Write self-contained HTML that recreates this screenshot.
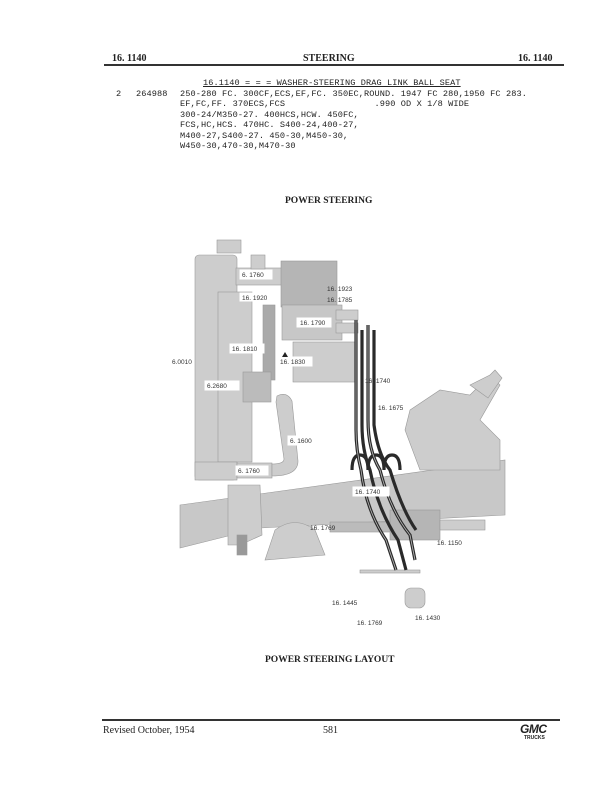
<!DOCTYPE html>
<html><head><meta charset="utf-8"><style>
body{margin:0;background:#fff;}
.pg{position:relative;width:612px;height:792px;overflow:hidden;font-family:"Liberation Serif",serif;color:#222;}
.t{position:absolute;white-space:nowrap;}
.m{font-family:"Liberation Mono",monospace;font-size:8.6px;letter-spacing:0.1px;line-height:10.4px;}
</style></head><body><div class="pg">
<div class="t" style="left:112px;top:53px;font-size:10px;font-weight:bold;">16. 1140</div>
<div class="t" style="left:303px;top:53px;font-size:10px;font-weight:bold;">STEERING</div>
<div class="t" style="left:518px;top:53px;font-size:10px;font-weight:bold;">16. 1140</div>
<div style="position:absolute;left:104px;top:64px;width:460px;height:1.5px;background:#333"></div>
<div class="t m" style="left:203px;top:78px;text-decoration:underline;">16.1140 = = = WASHER-STEERING DRAG LINK BALL SEAT</div>
<div class="t m" style="left:116px;top:89px;">2</div>
<div class="t m" style="left:136px;top:89px;">264988</div>
<div class="t m" style="left:180px;top:89px;">250-280 FC. 300CF,ECS,EF,FC. 350EC,ROUND. 1947 FC 280,1950 FC 283.<br>EF,FC,FF. 370ECS,FCS&nbsp;&nbsp;&nbsp;&nbsp;&nbsp;&nbsp;&nbsp;&nbsp;&nbsp;&nbsp;&nbsp;&nbsp;&nbsp;&nbsp;&nbsp;&nbsp;&nbsp;.990 OD X 1/8 WIDE<br>300-24/M350-27. 400HCS,HCW. 450FC,<br>FCS,HC,HCS. 470HC. S400-24,400-27,<br>M400-27,S400-27. 450-30,M450-30,<br>W450-30,470-30,M470-30</div>
<div class="t" style="left:285px;top:196px;font-size:9.5px;font-weight:bold;">POWER STEERING</div>

<svg style="position:absolute;left:0;top:0" width="612" height="792" font-family="Liberation Sans,sans-serif" font-size="6.5">
<g fill="#cdcdcd" stroke="#999" stroke-width="0.6">
<rect x="217" y="240" width="24" height="13"/>
<rect x="195" y="255" width="42" height="225" rx="4"/>
<rect x="218" y="292" width="34" height="170"/>
<rect x="195" y="462" width="42" height="18"/>
<polygon points="180,505 505,460 505,515 260,528 180,548" fill="#c8c8c8"/>
<polygon points="228,485 260,485 262,535 240,545 228,545"/>
<polygon points="410,410 440,390 470,395 490,375 500,385 480,420 500,440 500,470 420,470 405,430"/>
<polygon points="470,385 490,375 495,370 502,378 488,398"/>
<rect x="237" y="463" width="35" height="15"/>
<path d="M277,396 q10,-5 15,5 l6,60 q0,15 -26,15 l0,-12 q12,0 12,-5 l-8,-57z"/>
<rect x="293" y="342" width="62" height="40"/>
<rect x="236" y="268" width="56" height="17"/>
<rect x="251" y="255" width="14" height="14"/>
<rect x="281" y="261" width="56" height="46" fill="#b5b5b5"/>
<rect x="282" y="305" width="60" height="35" fill="#c7c7c7"/>
<rect x="263" y="305" width="12" height="75" fill="#aaa"/>
<rect x="243" y="372" width="28" height="30" fill="#bbb"/>
<rect x="336" y="310" width="22" height="10"/>
<rect x="336" y="323" width="22" height="10"/>
<rect x="330" y="522" width="100" height="10" fill="#bbb"/>
<rect x="390" y="510" width="50" height="30" fill="#b5b5b5"/>
<rect x="440" y="520" width="45" height="10"/>
<rect x="405" y="588" width="20" height="20" rx="6"/>
<rect x="360" y="570" width="60" height="3"/>
<path d="M275,530 q20,-15 40,0 l10,25 l-60,5z"/>
<rect x="237" y="535" width="10" height="20" fill="#999"/>
</g>
<g fill="none" stroke="#2a2a2a" stroke-width="3.2">
<path d="M356,320 L356,430 q0,20 5,40 q5,40 25,70 l10,30"/>
<path d="M362,330 L362,425 q0,25 8,45 q8,40 28,70 l8,30"/>
<path d="M368,325 L368,420 q0,30 12,50 q10,40 30,65 l5,25"/>
<path d="M374,330 L374,425 q4,30 16,45 q12,40 26,60"/>
<path d="M352,470 q0,-15 8,-15 q8,0 8,15 M368,470 q0,-15 8,-15 q8,0 8,15 M384,470 q0,-15 8,-15 q8,0 8,15"/>
</g>
<g fill="none" stroke="#bbb" stroke-width="0.8">
<path d="M356,320 L356,430 q0,20 5,40 q5,40 25,70 l10,30"/>
<path d="M368,325 L368,420 q0,30 12,50 q10,40 30,65 l5,25"/>
</g>
<g fill="#fff" stroke="#fff">
<rect x="240" y="270" width="32" height="9"/><rect x="240" y="293" width="34" height="8"/>
<rect x="297" y="318" width="34" height="9"/><rect x="230" y="344" width="34" height="9"/>
<rect x="278" y="357" width="34" height="9"/><rect x="205" y="381" width="34" height="9"/>
<rect x="288" y="436" width="30" height="9"/><rect x="236" y="466" width="32" height="9"/>
<rect x="353" y="487" width="36" height="9"/>
</g>
<g fill="#333">
<text x="242" y="277">6. 1760</text><text x="242" y="300">16. 1920</text>
<text x="327" y="291">16. 1923</text><text x="327" y="302">16. 1785</text>
<text x="300" y="325">16. 1790</text><text x="232" y="351">16. 1810</text>
<text x="280" y="364">16. 1830</text><text x="172" y="364">6.0010</text>
<text x="207" y="388">6.2680</text><text x="365" y="383">16. 1740</text>
<text x="378" y="410">16. 1675</text><text x="290" y="443">6. 1600</text>
<text x="238" y="473">6. 1760</text><text x="355" y="494">16. 1740</text>
<text x="310" y="530">16. 1769</text><text x="437" y="545">16. 1150</text>
<text x="332" y="605">16. 1445</text><text x="357" y="625">16. 1769</text>
<text x="415" y="620">16. 1430</text>
</g>
<path d="M285,352 l-3,5 h6z" fill="#222"/>
</svg>

<div class="t" style="left:265px;top:655px;font-size:9.5px;font-weight:bold;">POWER STEERING LAYOUT</div>
<div style="position:absolute;left:102px;top:719px;width:458px;height:1.5px;background:#333"></div>
<div class="t" style="left:103px;top:725px;font-size:10px;">Revised October, 1954</div>
<div class="t" style="left:323px;top:725px;font-size:10px;">581</div>
<div class="t" style="left:520px;top:722px;font-size:12px;font-weight:bold;font-family:'Liberation Sans',sans-serif;font-style:italic;letter-spacing:-0.5px;">GMC</div>
<div class="t" style="left:524px;top:735px;font-size:5px;font-weight:bold;font-family:'Liberation Sans',sans-serif;">TRUCKS</div>
</div></body></html>
